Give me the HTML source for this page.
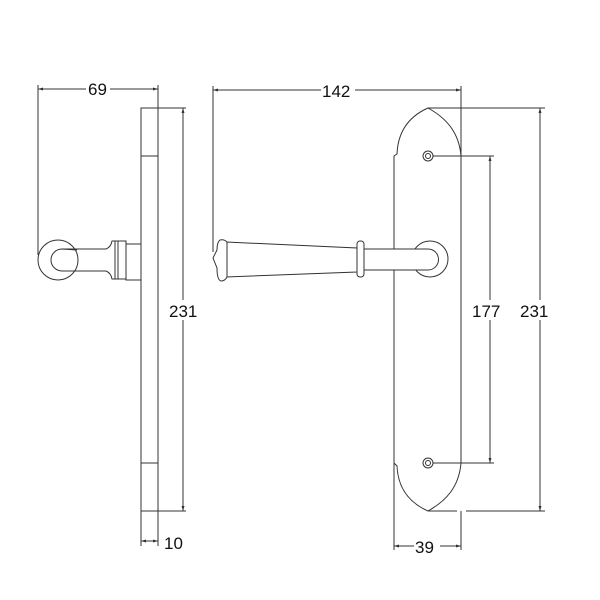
<!DOCTYPE html>
<html><head><style>body{margin:0;background:#fff}svg{display:block}text{font-family:"Liberation Sans",sans-serif;font-size:17px;fill:#111;stroke:none}</style></head><body>
<svg width="600" height="600" viewBox="0 0 600 600" fill="none" stroke="#333" stroke-width="1">
<defs><marker id="a" markerWidth="6" markerHeight="6" refX="5" refY="3" orient="auto-start-reverse"><path d="M0,1.5L5,3L0,4.5z" fill="#333" stroke="none"/></marker></defs>
<!-- side view -->
<rect x="141" y="108" width="17" height="403"/>
<line x1="141" y1="156" x2="158" y2="156"/><line x1="141" y1="463" x2="158" y2="463"/>
<line x1="158" y1="108" x2="186" y2="108"/><line x1="158" y1="511" x2="186" y2="511"/>
<line x1="183" y1="108" x2="183" y2="511" marker-start="url(#a)" marker-end="url(#a)"/>
<rect x="168" y="300" width="32" height="20" fill="#fff" stroke="none"/>
<text x="169" y="317">231</text>
<line x1="38" y1="89" x2="158" y2="89" marker-start="url(#a)" marker-end="url(#a)"/>
<line x1="38" y1="85" x2="38" y2="255"/><line x1="158" y1="85" x2="158" y2="108"/>
<rect x="86" y="80" width="24" height="18" fill="#fff" stroke="none"/>
<text x="88" y="95">69</text>
<circle cx="58" cy="260" r="20"/>
<path d="M77,250 L62,249 A11,11 0 0 0 62,271 L77,271"/>
<path d="M62,249 L106,249 Q111,247 112,241 L126,241 L126,279 L112,279 Q111,273 106,271 L62,271"/>
<line x1="115" y1="241" x2="115" y2="279"/><line x1="118" y1="241" x2="118" y2="279"/>
<rect x="126" y="244" width="15" height="36"/>
<line x1="141" y1="511" x2="141" y2="546"/><line x1="158" y1="511" x2="158" y2="546"/>
<line x1="141" y1="541" x2="158" y2="541" marker-start="url(#a)" marker-end="url(#a)"/>
<text x="164" y="549">10</text>
<!-- front view -->
<path d="M394,511 L394,156 L397,154 C398,130 410,116 428,108 C446,118 459,132 461,156 L461,463 C459,487 446,501 428,511 C410,503 398,489 397,466 L394,463"/>
<circle cx="428" cy="156" r="5"/><circle cx="428" cy="156" r="2.5"/>
<circle cx="428" cy="463" r="5"/><circle cx="428" cy="463" r="2.5"/>
<line x1="428" y1="108" x2="545" y2="108"/><line x1="428" y1="511" x2="457" y2="511"/><line x1="466" y1="511" x2="545" y2="511"/>
<line x1="540" y1="108" x2="540" y2="511" marker-start="url(#a)" marker-end="url(#a)"/>
<rect x="519" y="300" width="34" height="20" fill="#fff" stroke="none"/>
<text x="520" y="317">231</text>
<line x1="433" y1="156" x2="494" y2="156"/><line x1="433" y1="463" x2="494" y2="463"/>
<line x1="490" y1="156" x2="490" y2="463" marker-start="url(#a)" marker-end="url(#a)"/>
<rect x="471" y="300" width="34" height="20" fill="#fff" stroke="none"/>
<text x="472" y="317">177</text>
<line x1="394" y1="511" x2="394" y2="550"/><line x1="461" y1="511" x2="461" y2="550"/>
<line x1="394" y1="546" x2="461" y2="546" marker-start="url(#a)" marker-end="url(#a)"/>
<rect x="414" y="536" width="26" height="20" fill="#fff" stroke="none"/>
<text x="415" y="553">39</text>
<line x1="213" y1="90" x2="461" y2="90" marker-start="url(#a)" marker-end="url(#a)"/>
<line x1="213" y1="86" x2="213" y2="252"/><line x1="461" y1="86" x2="461" y2="156"/>
<rect x="321" y="81" width="34" height="18" fill="#fff" stroke="none"/>
<text x="322" y="97">142</text>
<circle cx="430" cy="259" r="18" fill="#fff"/>
<path d="M364,249 L428,249 A10.5,10.5 0 0 1 428,270 L364,270" fill="#fff"/>
<path d="M226,242 L357,248 L357,272 L226,277 Z" fill="#fff"/>
<rect x="357" y="241" width="7" height="36" rx="3" fill="#fff"/>
<path d="M227,242 Q224,239 220,240 Q217,242 217,250 L213,258 L217,268 Q217,280 221,281 Q225,281 227,277 Z" fill="#fff"/>
<line x1="227" y1="242" x2="227" y2="277"/>
</svg>
</body></html>
